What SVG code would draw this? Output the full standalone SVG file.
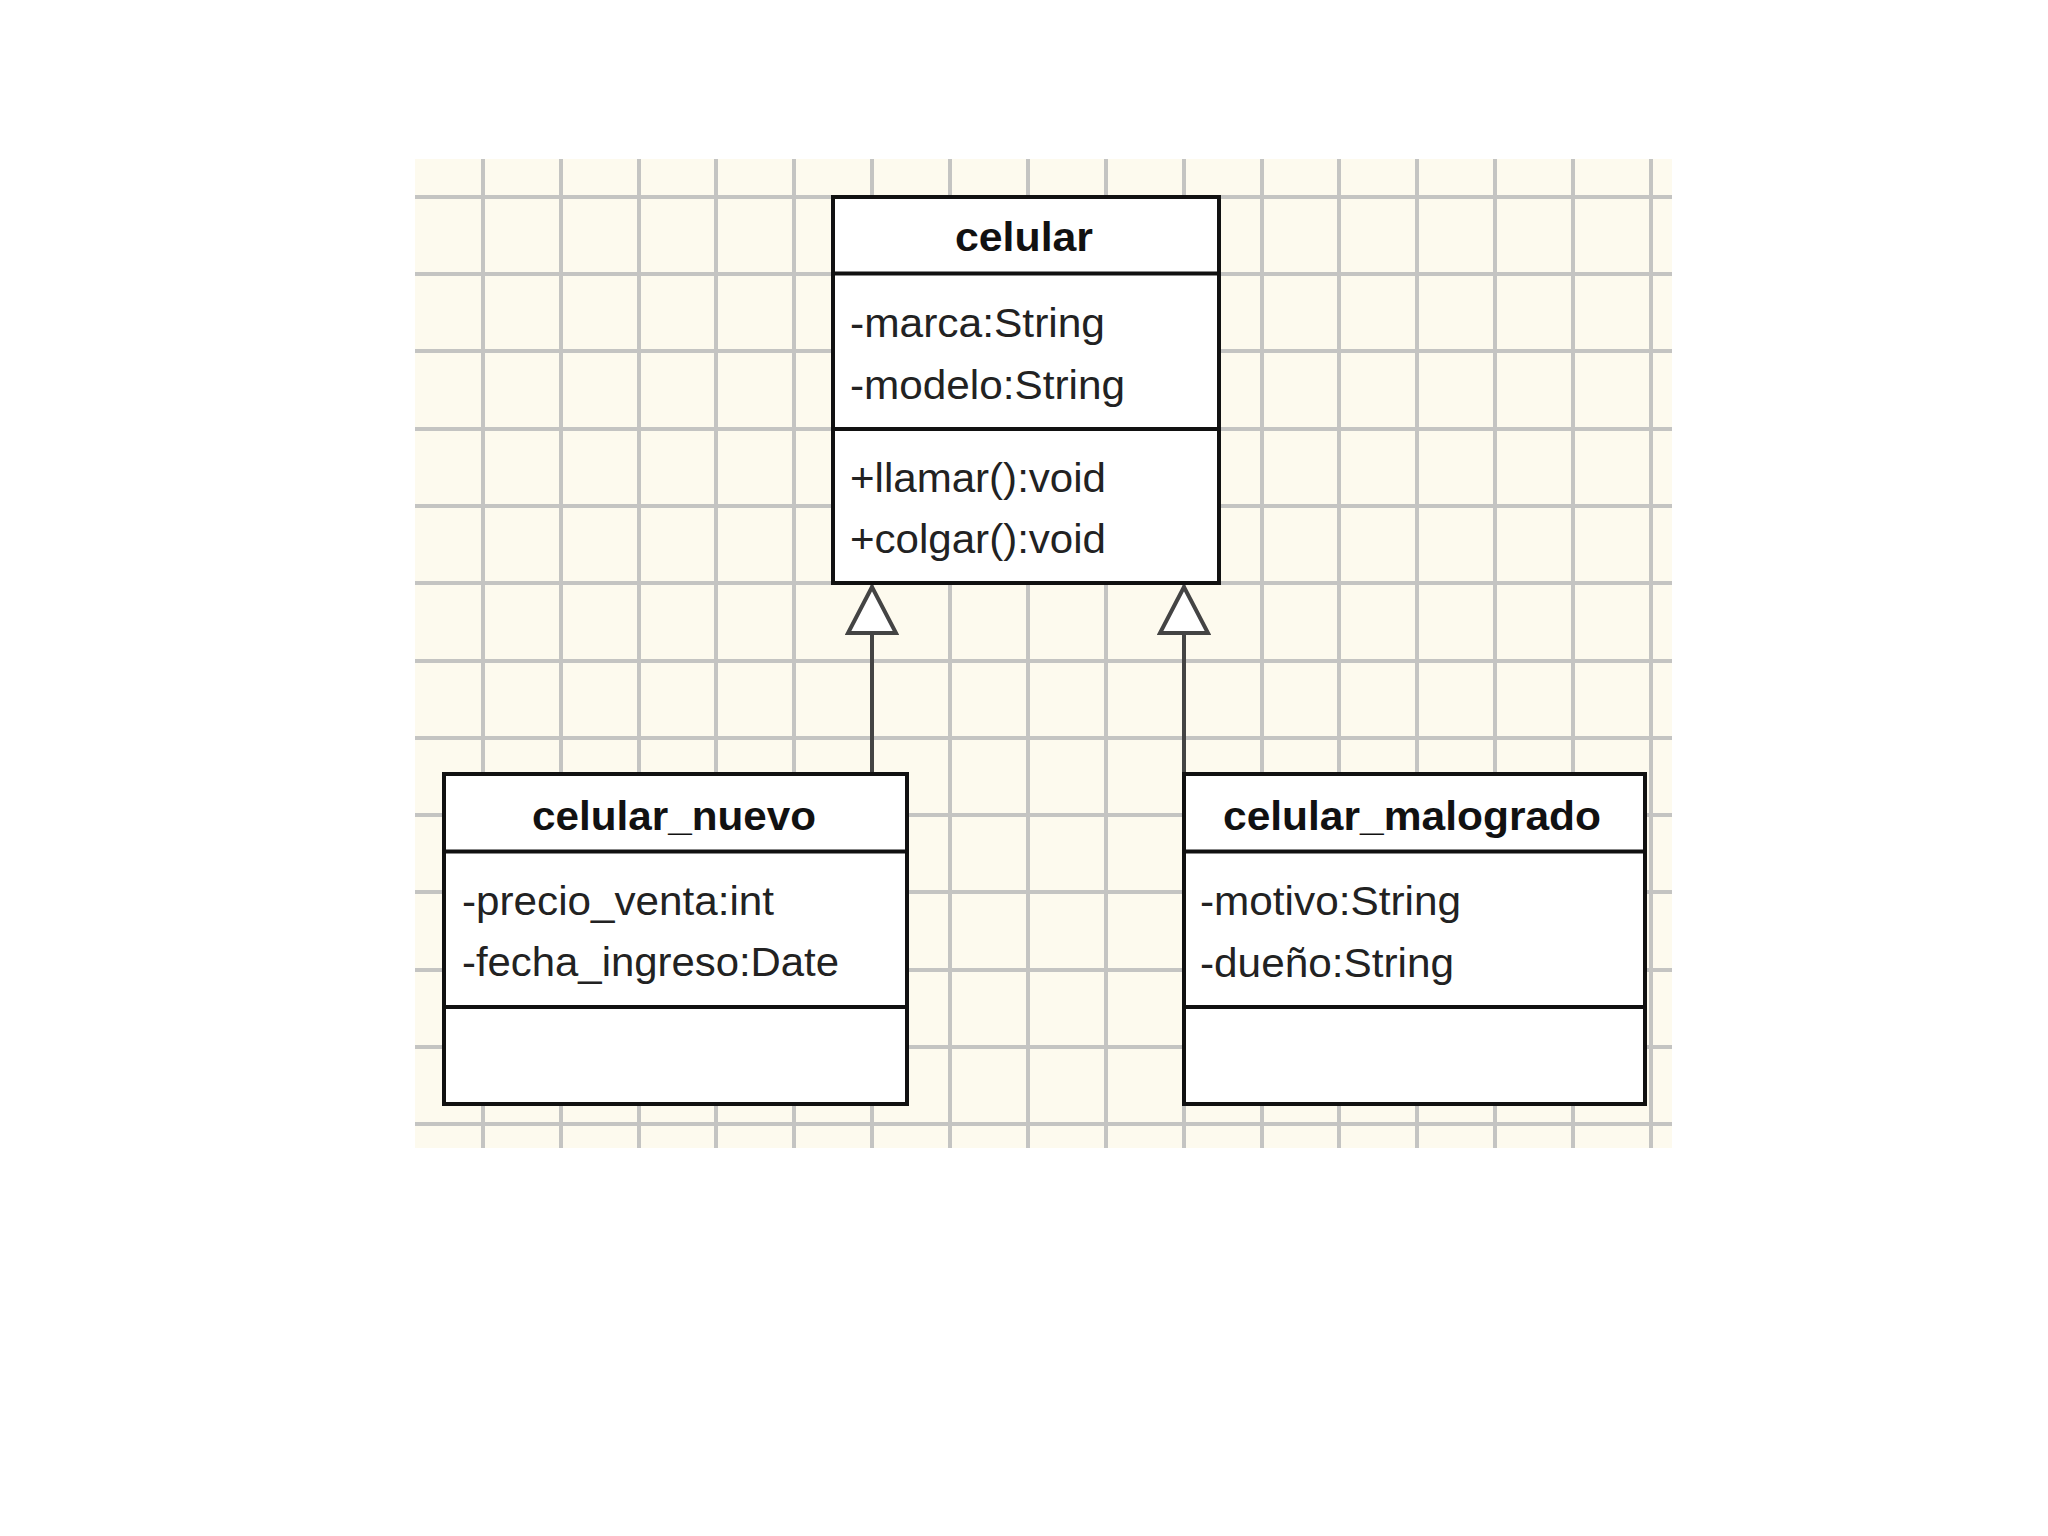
<svg xmlns="http://www.w3.org/2000/svg" width="2048" height="1536" viewBox="0 0 2048 1536">
  <style>
    .grid line { stroke: #c4c4c2; stroke-width: 4; }
    .box { fill: #ffffff; stroke: #111111; stroke-width: 4; }
    .div { stroke: #111111; stroke-width: 4; }
    .title { font-family: "Liberation Sans", Arial, sans-serif; font-size: 40px; font-weight: bold; fill: #111111; }
    .attr { font-family: "Liberation Sans", Arial, sans-serif; font-size: 40px; fill: #222222; }
    .conn { stroke: #444444; stroke-width: 4; fill: none; }
  </style>
  <defs>
    <marker id="gen" viewBox="-50 -27 52 54" refX="0" refY="0" markerWidth="52" markerHeight="54" markerUnits="userSpaceOnUse" orient="auto">
      <path d="M0,0 L-46,-24 L-46,24 Z" fill="#ffffff" stroke="#444444" stroke-width="4" stroke-linejoin="miter"/>
    </marker>
  </defs>
  <rect x="0" y="0" width="2048" height="1536" fill="#ffffff"/>
  <g id="grid" class="grid">
    <rect x="415" y="159" width="1257" height="989" fill="#fdfaee"/>
    <line x1="483" y1="159" x2="483" y2="1148"/>
    <line x1="561" y1="159" x2="561" y2="1148"/>
    <line x1="639" y1="159" x2="639" y2="1148"/>
    <line x1="716" y1="159" x2="716" y2="1148"/>
    <line x1="794" y1="159" x2="794" y2="1148"/>
    <line x1="872" y1="159" x2="872" y2="1148"/>
    <line x1="950" y1="159" x2="950" y2="1148"/>
    <line x1="1028" y1="159" x2="1028" y2="1148"/>
    <line x1="1106" y1="159" x2="1106" y2="1148"/>
    <line x1="1184" y1="159" x2="1184" y2="1148"/>
    <line x1="1262" y1="159" x2="1262" y2="1148"/>
    <line x1="1339" y1="159" x2="1339" y2="1148"/>
    <line x1="1417" y1="159" x2="1417" y2="1148"/>
    <line x1="1495" y1="159" x2="1495" y2="1148"/>
    <line x1="1573" y1="159" x2="1573" y2="1148"/>
    <line x1="1651" y1="159" x2="1651" y2="1148"/>
    <line x1="415" y1="197" x2="1672" y2="197"/>
    <line x1="415" y1="274" x2="1672" y2="274"/>
    <line x1="415" y1="351" x2="1672" y2="351"/>
    <line x1="415" y1="429" x2="1672" y2="429"/>
    <line x1="415" y1="506" x2="1672" y2="506"/>
    <line x1="415" y1="583" x2="1672" y2="583"/>
    <line x1="415" y1="661" x2="1672" y2="661"/>
    <line x1="415" y1="738" x2="1672" y2="738"/>
    <line x1="415" y1="815" x2="1672" y2="815"/>
    <line x1="415" y1="892" x2="1672" y2="892"/>
    <line x1="415" y1="970" x2="1672" y2="970"/>
    <line x1="415" y1="1047" x2="1672" y2="1047"/>
    <line x1="415" y1="1124" x2="1672" y2="1124"/>
  </g>
  <g id="connectors">
    <path class="conn" d="M872,774 L872,587" marker-end="url(#gen)"/>
    <path class="conn" d="M1184,774 L1184,587" marker-end="url(#gen)"/>
  </g>
  <g id="celular">
    <rect class="box" x="833" y="197" width="386" height="386"/>
    <line class="div" x1="833" y1="273.5" x2="1219" y2="273.5"/>
    <line class="div" x1="833" y1="429" x2="1219" y2="429"/>
    <text class="title" x="955" y="251" textLength="138" lengthAdjust="spacingAndGlyphs">celular</text>
    <text class="attr" x="850" y="337" textLength="255" lengthAdjust="spacingAndGlyphs">-marca:String</text>
    <text class="attr" x="850" y="399" textLength="275" lengthAdjust="spacingAndGlyphs">-modelo:String</text>
    <text class="attr" x="850" y="492" textLength="256" lengthAdjust="spacingAndGlyphs">+llamar():void</text>
    <text class="attr" x="850" y="553" textLength="256" lengthAdjust="spacingAndGlyphs">+colgar():void</text>
  </g>
  <g id="celular_nuevo">
    <rect class="box" x="444" y="774" width="463" height="330"/>
    <line class="div" x1="444" y1="851.5" x2="907" y2="851.5"/>
    <line class="div" x1="444" y1="1007" x2="907" y2="1007"/>
    <text class="title" x="532" y="830" textLength="284" lengthAdjust="spacingAndGlyphs">celular_nuevo</text>
    <text class="attr" x="462" y="915" textLength="312" lengthAdjust="spacingAndGlyphs">-precio_venta:int</text>
    <text class="attr" x="462" y="976" textLength="377" lengthAdjust="spacingAndGlyphs">-fecha_ingreso:Date</text>
  </g>
  <g id="celular_malogrado">
    <rect class="box" x="1184" y="774" width="461" height="330"/>
    <line class="div" x1="1184" y1="851.5" x2="1645" y2="851.5"/>
    <line class="div" x1="1184" y1="1007" x2="1645" y2="1007"/>
    <text class="title" x="1223" y="830" textLength="378" lengthAdjust="spacingAndGlyphs">celular_malogrado</text>
    <text class="attr" x="1200" y="915" textLength="261" lengthAdjust="spacingAndGlyphs">-motivo:String</text>
    <text class="attr" x="1200" y="977" textLength="254" lengthAdjust="spacingAndGlyphs">-dueño:String</text>
  </g>
</svg>
